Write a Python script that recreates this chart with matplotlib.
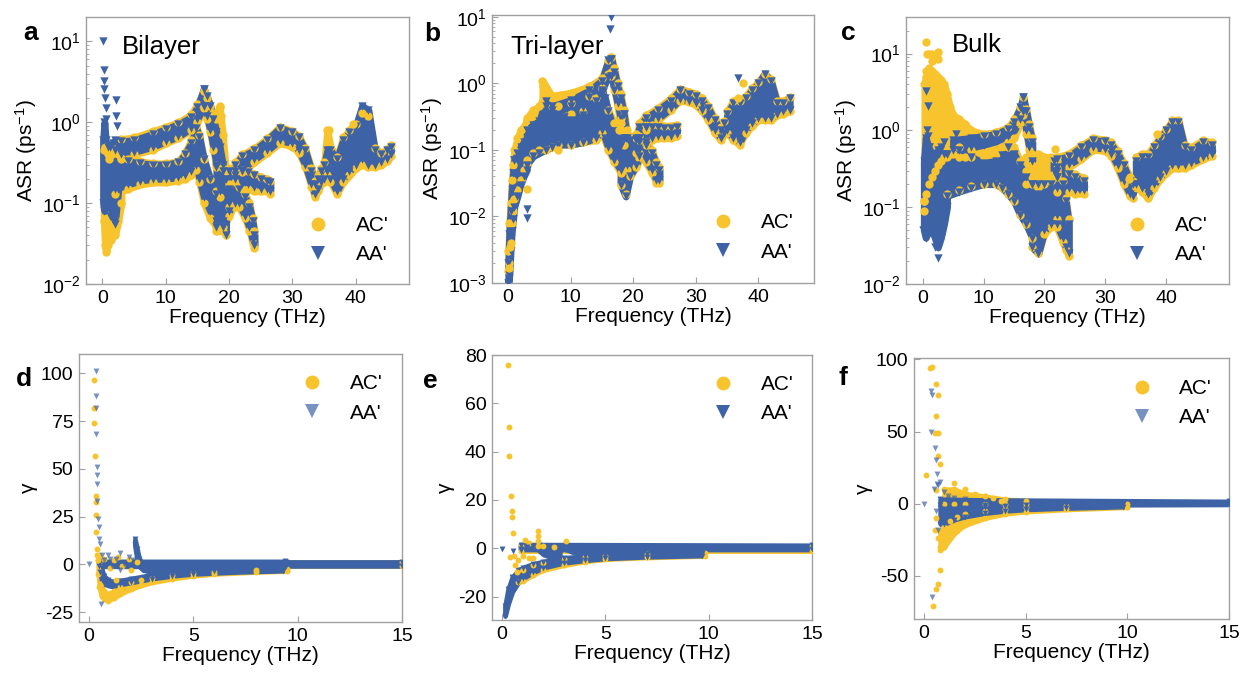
import numpy as np
import matplotlib
matplotlib.use('Agg')
import matplotlib.pyplot as plt
from matplotlib.lines import Line2D
from matplotlib.ticker import LogLocator, NullFormatter, FixedLocator

plt.rcParams['font.family'] = ['Liberation Sans', 'DejaVu Sans']
plt.rcParams['mathtext.fontset'] = 'custom'
plt.rcParams['mathtext.rm'] = 'Liberation Sans'
plt.rcParams['mathtext.it'] = 'Liberation Sans:italic'
plt.rcParams['mathtext.bf'] = 'Liberation Sans:bold'
plt.rcParams['mathtext.default'] = 'regular'
plt.rcParams['axes.unicode_minus'] = False

YEL = '#F8C42E'
BLU = '#3D63A6'

# ---------------- data: (frequency THz, low, high) bands and isolated points ----------------
# Panel a: Bilayer ASR (ps^-1)
a_AC_low = [(0.2, 0.06, 0.45), (0.4, 0.03, 0.5), (0.6, 0.025, 0.45), (0.8, 0.03, 0.4), (1.0, 0.035, 0.35),
            (1.5, 0.04, 0.4), (2.0, 0.04, 0.45), (2.5, 0.06, 0.4), (3.0, 0.1, 0.35)]
a_AC_upper = [(3, 0.36, 0.62), (5, 0.4, 0.65), (8, 0.46, 0.78), (10, 0.55, 0.88), (12, 0.64, 1.0),
              (14, 0.8, 1.25), (15, 1.0, 1.7), (16, 1.5, 2.4)]
a_AC_desc = [(16, 1.5, 2.4), (16.5, 1.1, 2.0), (17, 0.75, 1.6), (17.5, 0.45, 1.3), (18, 0.28, 1.1),
             (18.5, 0.12, 1.6), (19, 0.05, 0.7), (19.5, 0.04, 0.25)]
a_AC_mid = [(2, 0.13, 0.5), (4, 0.15, 0.35), (6, 0.17, 0.33), (8, 0.18, 0.31), (10, 0.18, 0.31), (12, 0.19, 0.33),
            (13, 0.2, 0.42), (14, 0.22, 0.6), (14.8, 0.26, 0.9), (15.3, 0.18, 0.7), (16, 0.1, 0.35),
            (17, 0.065, 0.2), (18, 0.05, 0.14)]
a_AC_valley = [(18, 0.045, 0.3), (19, 0.045, 0.27), (20, 0.07, 0.27), (21, 0.1, 0.24)]
a_AC_rise = [(20, 0.09, 0.17), (21, 0.18, 0.32), (22, 0.24, 0.4), (24, 0.32, 0.48), (26, 0.42, 0.63),
             (28, 0.55, 0.88), (30, 0.5, 0.78), (31, 0.42, 0.68), (32, 0.28, 0.48), (33, 0.16, 0.27),
             (33.5, 0.12, 0.19), (34, 0.14, 0.22), (34.5, 0.17, 0.27)]
a_AC_shelf = [(21, 0.09, 0.26), (22, 0.15, 0.26), (23, 0.15, 0.25), (24, 0.14, 0.23), (25, 0.14, 0.21),
              (26, 0.14, 0.2), (26.5, 0.13, 0.19)]
a_AC_dip = [(21.5, 0.09, 0.16), (22.5, 0.065, 0.13), (23.2, 0.045, 0.1), (23.7, 0.032, 0.065), (24.0, 0.028, 0.045)]
a_AC_high = [(35, 0.18, 0.32), (35.5, 0.22, 0.8), (36, 0.18, 0.5), (37, 0.13, 0.37), (38, 0.18, 0.65),
             (39, 0.22, 0.8), (40, 0.27, 0.95), (41, 0.3, 1.3), (42, 0.28, 1.2), (43, 0.28, 0.48),
             (44, 0.3, 0.42), (45, 0.33, 0.47), (45.5, 0.38, 0.52)]
a_AC_pts = [(18.6, 1.55), (18.7, 1.2), (35.8, 0.8), (39.5, 0.95), (0.5, 0.028), (1.3, 0.035)]

a_AA_low = [(0.1, 0.1, 0.6), (0.3, 0.08, 1.0), (0.5, 0.12, 0.6), (0.8, 0.15, 0.5), (1.2, 0.1, 0.5),
            (1.6, 0.07, 0.55), (2.0, 0.06, 0.6), (2.5, 0.15, 0.5), (3.0, 0.18, 0.45)]
a_AA_upper = [(3, 0.4, 0.58), (5, 0.43, 0.6), (8, 0.5, 0.72), (10, 0.58, 0.82), (12, 0.67, 0.95),
              (14, 0.85, 1.15), (15, 1.1, 1.55), (16, 1.6, 2.6)]
a_AA_desc = [(16, 1.6, 2.6), (16.5, 1.2, 2.1), (17, 0.8, 1.6), (17.5, 0.5, 1.1), (18, 0.3, 0.75),
             (18.5, 0.14, 0.5), (19, 0.06, 0.3), (19.5, 0.04, 0.2)]
a_AA_mid = [(2, 0.15, 0.45), (4, 0.17, 0.33), (6, 0.19, 0.31), (8, 0.2, 0.3), (10, 0.2, 0.3), (12, 0.21, 0.32),
            (13, 0.22, 0.4), (14, 0.25, 0.55), (14.8, 0.3, 0.85), (15.3, 0.2, 0.65), (16, 0.12, 0.35),
            (17, 0.08, 0.2), (18, 0.06, 0.13)]
a_AA_valley = [(18, 0.05, 0.28), (19, 0.05, 0.25), (20, 0.08, 0.25), (21, 0.12, 0.22)]
a_AA_rise = [(20, 0.1, 0.15), (21, 0.2, 0.3), (22, 0.26, 0.38), (24, 0.35, 0.45), (26, 0.45, 0.6),
             (28, 0.6, 0.85), (30, 0.55, 0.75), (31, 0.45, 0.65), (32, 0.3, 0.45), (33, 0.17, 0.25),
             (33.5, 0.13, 0.17), (34, 0.15, 0.2), (34.5, 0.18, 0.25)]
a_AA_shelf = [(21, 0.1, 0.25), (22, 0.17, 0.25), (23, 0.17, 0.24), (24, 0.16, 0.22), (25, 0.15, 0.2),
              (26, 0.15, 0.19), (26.5, 0.14, 0.18)]
a_AA_dip = [(21.5, 0.1, 0.15), (22.5, 0.07, 0.12), (23.2, 0.05, 0.09), (23.7, 0.035, 0.06), (24.0, 0.03, 0.04)]
a_AA_high = [(35, 0.2, 0.3), (35.5, 0.25, 0.45), (36, 0.2, 0.45), (37, 0.14, 0.35), (38, 0.2, 0.6),
             (39, 0.25, 0.75), (40, 0.3, 0.9), (41, 0.35, 1.6), (42, 0.3, 1.4), (43, 0.3, 0.45),
             (44, 0.32, 0.4), (45, 0.35, 0.45), (45.5, 0.4, 0.5)]
a_AA_pts = [(0.15, 10.0), (0.25, 4.4), (0.3, 3.2), (0.3, 2.6), (0.35, 2.0), (0.5, 1.5), (0.6, 1.1),
            (2.2, 1.9), (2.2, 1.2), (2.3, 0.9), (1.2, 0.07), (2.0, 0.055), (1.8, 0.08)]

# Panel b: Tri-layer ASR
b_AC_rise0 = [(0.05, 0.0015, 0.003), (0.2, 0.002, 0.008), (0.4, 0.004, 0.016), (0.6, 0.008, 0.035),
              (0.8, 0.012, 0.06), (1.0, 0.018, 0.1), (1.5, 0.025, 0.15), (2.0, 0.035, 0.2),
              (2.5, 0.05, 0.22), (3.0, 0.06, 0.28)]
b_AC_lowband = [(3, 0.07, 0.3), (4, 0.09, 0.4), (5, 0.1, 0.45), (6, 0.1, 0.7), (7, 0.11, 0.6), (8, 0.12, 0.45),
                (10, 0.12, 0.35), (12, 0.13, 0.38), (14, 0.14, 0.6), (15, 0.18, 0.8), (16, 0.1, 0.4),
                (17, 0.065, 0.25), (18, 0.045, 0.3)]
b_AC_upper = [(5.5, 0.5, 1.1), (7, 0.45, 0.65), (10, 0.5, 0.72), (13, 0.65, 0.9), (15, 0.85, 1.2),
              (16, 1.4, 2.2), (16.5, 1.5, 2.5)]
b_AC_desc = [(16.5, 1.3, 2.5), (17, 0.8, 1.7), (17.5, 0.45, 1.0), (18, 0.2, 0.7), (18.5, 0.12, 0.4),
             (19, 0.05, 0.2)]
b_AC_valley = [(18, 0.03, 0.2), (18.8, 0.022, 0.17), (19.5, 0.04, 0.16), (20.5, 0.055, 0.15), (21, 0.075, 0.14)]
b_AC_rise = [(20.5, 0.09, 0.17), (21, 0.14, 0.25), (22, 0.2, 0.33), (24, 0.28, 0.43), (26, 0.4, 0.6),
             (27.5, 0.55, 0.83), (29, 0.52, 0.75), (30, 0.47, 0.7), (31, 0.38, 0.6), (32, 0.28, 0.46),
             (33, 0.18, 0.3), (34, 0.14, 0.22), (34.5, 0.17, 0.27)]
b_AC_shelf = [(22, 0.12, 0.24), (23, 0.14, 0.24), (24, 0.15, 0.24), (25, 0.15, 0.23), (26, 0.15, 0.23),
              (27, 0.16, 0.24)]
b_AC_dip = [(21, 0.09, 0.16), (22, 0.065, 0.13), (23, 0.045, 0.1), (23.7, 0.032, 0.065), (24.2, 0.032, 0.055)]
b_AC_high = [(35, 0.18, 0.38), (36, 0.14, 0.55), (37, 0.12, 0.55), (38, 0.18, 0.65), (39, 0.23, 0.85),
             (40, 0.28, 1.05), (41, 0.28, 1.4), (42, 0.28, 1.15), (43, 0.33, 0.55), (44, 0.35, 0.55),
             (45, 0.38, 0.62)]
b_AC_pts = [(0.1, 0.0017), (3.0, 0.026), (5.6, 0.9), (8.0, 0.1), (17.8, 0.2), (18.1, 0.25),
            (37.5, 1.0), (36.8, 0.6), (0.3, 0.0035)]

b_AA_rise0 = [(0.05, 0.001, 0.002), (0.2, 0.0013, 0.0055), (0.4, 0.003, 0.012), (0.6, 0.006, 0.025),
              (0.8, 0.009, 0.045), (1.0, 0.014, 0.07), (1.5, 0.02, 0.09), (2.0, 0.03, 0.11),
              (2.5, 0.04, 0.13), (3.0, 0.05, 0.15)]
b_AA_lowband = [(3, 0.06, 0.2), (4, 0.08, 0.24), (5, 0.09, 0.27), (6, 0.1, 0.55), (7, 0.11, 0.4), (8, 0.12, 0.33),
                (10, 0.12, 0.28), (12, 0.13, 0.3), (13, 0.14, 0.38), (14, 0.15, 0.55), (15, 0.2, 0.75),
                (15.5, 0.15, 0.6), (16, 0.11, 0.38), (17, 0.07, 0.19), (18, 0.05, 0.12)]
b_AA_mid = [(8, 0.22, 0.32), (9, 0.25, 0.31), (12, 0.33, 0.44), (14.5, 0.45, 0.7), (15.2, 0.5, 0.75)]
b_AA_upper = [(6, 0.3, 0.45), (7, 0.35, 0.45), (10, 0.45, 0.56), (13, 0.63, 0.78), (15, 0.78, 1.1),
              (16, 1.26, 2.2), (16.5, 1.3, 2.3)]
b_AA_desc = [(16.5, 1.3, 2.3), (17, 0.8, 1.5), (17.5, 0.5, 0.9), (18, 0.3, 0.6), (18.5, 0.15, 0.35),
             (19, 0.06, 0.15)]
b_AA_valley = [(18, 0.03, 0.15), (18.8, 0.02, 0.15), (19.5, 0.04, 0.14), (20.5, 0.06, 0.14), (21, 0.08, 0.13)]
b_AA_rise = [(20.5, 0.1, 0.15), (21, 0.15, 0.22), (22, 0.22, 0.3), (24, 0.3, 0.4), (26, 0.42, 0.55),
             (27.5, 0.58, 0.78), (29, 0.55, 0.7), (30, 0.5, 0.65), (31, 0.4, 0.55), (32, 0.3, 0.42),
             (33, 0.2, 0.28), (34, 0.15, 0.2), (34.5, 0.18, 0.25)]
b_AA_shelf = [(22, 0.13, 0.22), (23, 0.15, 0.22), (24, 0.16, 0.22), (25, 0.16, 0.21), (26, 0.16, 0.21),
              (27, 0.17, 0.22)]
b_AA_dip = [(21, 0.1, 0.15), (22, 0.07, 0.12), (23, 0.05, 0.09), (23.7, 0.035, 0.06), (24.2, 0.035, 0.05)]
b_AA_high = [(35, 0.2, 0.35), (36, 0.15, 0.5), (37, 0.13, 0.5), (38, 0.2, 0.6), (39, 0.25, 0.8),
             (40, 0.3, 1.0), (41, 0.3, 1.4), (42, 0.3, 1.1), (43, 0.35, 0.5), (44, 0.38, 0.5), (45, 0.4, 0.6)]
b_AA_pts = [(0.1, 0.0012), (3.0, 0.013), (3.0, 0.0095), (16.3, 6.5), (16.4, 10.0), (18.5, 0.35),
            (36.8, 1.2), (1.0, 0.07)]

# Panel c: Bulk ASR
c_AC_low = [(0.3, 0.12, 4.0), (0.5, 0.15, 5.0), (1.0, 0.2, 5.0), (1.5, 0.25, 6.0), (2.0, 0.3, 5.5),
            (2.5, 0.35, 5.0), (3.0, 0.4, 4.5), (3.5, 0.45, 4.0), (4.0, 0.45, 3.0), (4.5, 0.5, 2.0),
            (5.0, 0.5, 1.6), (6.0, 0.45, 1.4), (7.0, 0.45, 1.2), (8.0, 0.45, 1.0), (10.0, 0.45, 0.9),
            (12.0, 0.5, 0.95), (14.0, 0.6, 1.1), (15.0, 0.8, 1.4), (16.0, 1.2, 2.0)]
c_AC_mid = [(4, 0.15, 0.55), (6, 0.17, 0.6), (8, 0.19, 0.55), (10, 0.2, 0.5), (12, 0.2, 0.52), (13, 0.18, 0.6),
            (14, 0.15, 0.7), (15, 0.12, 0.6), (16, 0.08, 0.4), (17, 0.06, 0.3), (18, 0.04, 0.25)]
c_AC_desc = [(16.5, 1.6, 2.7), (17, 0.9, 1.9), (17.5, 0.55, 1.2), (18, 0.35, 0.8)]
c_AC_block = [(17, 0.2, 0.45), (18, 0.2, 0.5), (19, 0.18, 0.5), (20, 0.2, 0.45), (21, 0.22, 0.45), (22, 0.25, 0.4)]
c_AC_valley = [(18, 0.03, 0.22), (19, 0.025, 0.22), (20, 0.045, 0.22), (21, 0.055, 0.22), (22, 0.07, 0.27)]
c_AC_dip = [(22, 0.055, 0.27), (23, 0.035, 0.22), (23.5, 0.028, 0.13), (24, 0.023, 0.07)]
c_AC_rise = [(21.5, 0.27, 0.43), (22, 0.3, 0.45), (24, 0.33, 0.5), (26, 0.42, 0.64), (28, 0.56, 0.8),
             (30, 0.54, 0.76), (31, 0.46, 0.7), (32, 0.32, 0.54), (33, 0.2, 0.38), (34, 0.14, 0.25),
             (34.5, 0.13, 0.22)]
c_AC_shelf = [(22, 0.16, 0.32), (24, 0.16, 0.29), (25, 0.15, 0.27), (26.5, 0.15, 0.24)]
c_AC_high = [(35, 0.18, 0.45), (36, 0.16, 0.5), (37, 0.13, 0.5), (38, 0.18, 0.65), (39, 0.23, 0.85),
             (40, 0.28, 1.05), (41, 0.32, 1.35), (42, 0.32, 1.35), (43, 0.32, 0.65), (44, 0.35, 0.6),
             (46, 0.42, 0.75), (47.5, 0.47, 0.7)]
c_AC_pts = [(0.5, 14.0), (0.7, 10.0), (1.0, 10.0), (1.5, 10.0), (1.6, 8.0), (2.5, 10.5), (2.5, 8.5),
            (0.5, 6.0), (1.0, 6.5), (0.2, 0.09), (0.3, 0.12), (21.8, 0.58), (33.8, 0.23), (38.5, 0.9)]

c_AA_low = [(0.2, 0.05, 0.4), (0.5, 0.04, 0.8), (1.0, 0.05, 0.6), (1.5, 0.05, 0.5), (2.0, 0.04, 0.5),
            (2.5, 0.03, 0.55), (3.0, 0.04, 0.6), (3.5, 0.06, 0.5), (4.0, 0.1, 0.5)]
c_AA_mid = [(4, 0.14, 0.5), (6, 0.16, 0.55), (8, 0.18, 0.45), (10, 0.2, 0.38), (12, 0.2, 0.4), (13, 0.18, 0.48),
            (14, 0.15, 0.6), (15, 0.12, 0.5), (16, 0.08, 0.35), (17, 0.06, 0.25), (18, 0.04, 0.2),
            (19, 0.025, 0.15)]
c_AA_upper = [(5, 0.55, 0.75), (8, 0.6, 0.8), (10, 0.65, 0.85), (12, 0.72, 0.9), (14, 0.85, 1.05),
              (15, 1.0, 1.3), (16, 1.4, 2.0), (16.5, 1.8, 2.7)]
c_AA_desc = [(16.5, 1.8, 2.7), (17, 1.0, 1.8), (17.5, 0.6, 1.1), (18, 0.4, 0.7)]
c_AA_valley = [(18, 0.03, 0.2), (19, 0.025, 0.2), (20, 0.05, 0.2), (21, 0.06, 0.2), (22, 0.08, 0.25)]
c_AA_dip = [(22, 0.06, 0.25), (23, 0.04, 0.2), (23.5, 0.03, 0.12), (24, 0.025, 0.06)]
c_AA_rise = [(21.5, 0.3, 0.4), (22, 0.33, 0.42), (24, 0.36, 0.46), (26, 0.45, 0.6), (28, 0.6, 0.75),
             (30, 0.58, 0.72), (31, 0.5, 0.65), (32, 0.35, 0.5), (33, 0.22, 0.35), (34, 0.15, 0.22),
             (34.5, 0.14, 0.2)]
c_AA_shelf = [(22, 0.18, 0.3), (24, 0.18, 0.27), (25, 0.17, 0.25), (26.5, 0.17, 0.22)]
c_AA_high = [(35, 0.2, 0.4), (36, 0.18, 0.45), (37, 0.15, 0.45), (38, 0.2, 0.6), (39, 0.25, 0.8),
             (40, 0.3, 1.0), (41, 0.35, 1.3), (42, 0.35, 1.3), (43, 0.35, 0.6), (44, 0.38, 0.55),
             (46, 0.45, 0.7), (47.5, 0.5, 0.65)]
c_AA_pts = [(0.6, 3.3), (0.8, 2.1), (0.7, 1.0), (0.8, 0.85), (1.0, 0.6), (2.5, 0.022), (2.0, 0.03),
            (0.1, 0.05), (3.5, 0.7), (5.5, 0.9)]

# Panel d: Bilayer gamma
d_AC_band = [(0.45, -5, 2), (0.5, -12, -3), (0.6, -16.5, -10), (0.7, -18, -14), (0.9, -19, -15.5),
             (1.2, -17.5, -14), (1.5, -15.5, -12), (2, -13, -9.5), (2.5, -11, -8), (3, -9.5, -7),
             (4, -7.5, -5.5), (5, -6, -4.5), (6, -5, -3.8), (8, -4, -3), (9.5, -3.5, -2.6)]
d_AC_zero = [(0.5, -1, 1), (15, -1, 1)]
d_AC_pts = [(0.24, 96.5), (0.24, 81.6), (0.24, 74.0), (0.27, 56.5), (0.32, 36.0), (0.35, 32.5),
            (0.35, 26.0), (0.35, 16.7), (0.38, 8.0), (0.4, 5.0), (0.45, 2.0), (0.5, 5.0), (0.7, 3.0),
            (1.0, -2.0), (1.2, 2.0), (1.4, 4.0), (1.6, -1.0), (1.9, 3.0), (2.0, -3.0), (2.3, 1.0), (1.3, -8.0)]
d_AA_band = [(0.55, -4, 1), (0.6, -8, -2), (0.7, -10, -6), (0.9, -11, -8), (1.1, -11.5, -9),
             (1.5, -10.5, -8.5), (2, -9.5, -7.5), (3, -7.5, -5.5), (4, -6, -4.5), (5, -5, -3.5),
             (7, -4, -3), (9.3, -3.3, -2.5)]
d_AA_branch = [(2.2, 10, 13), (2.3, 3, 8), (2.4, -1, 3), (2.6, -3, 0), (3, -4, -1.5), (4, -4, -2),
               (6, -3.5, -2), (9.3, -3, -2)]
d_AA_zero = [(0.5, -1, 1.5), (9.4, -1, 1.5), (9.45, -0.8, 1.2), (15, -0.8, 1.2)]
d_AA_pts = [(0.32, 101.0), (0.32, 88.0), (0.35, 82.0), (0.35, 68.0), (0.4, 51.0), (0.38, 47.0),
            (0.4, 42.0), (0.4, 33.0), (0.45, 23.7), (0.5, 19.3), (0.5, 13.0), (0.55, 10.5), (0.6, 5.0),
            (0.0, 0.0), (0.56, -21.0), (0.7, 2.0), (0.9, 5.0), (1.1, -1.0), (1.3, 3.0), (1.5, 6.0),
            (1.7, 0.0), (1.9, 4.0), (2.1, 2.0), (1.5, -3.0), (1.0, 3.0)]

# Panel e: Tri-layer gamma
e_AC_band = [(0.8, -14, -9), (1, -13.5, -9), (1.5, -11, -7), (2, -9, -6), (3, -7, -4.5), (4, -5.5, -3.5),
             (5, -4.5, -3), (7, -3.8, -2.5), (9.8, -3.2, -2)]
e_AC_zero = [(0.9, -1, 1), (15, -1, 1)]
e_AC_pts = [(0.27, 76.0), (0.35, 50.3), (0.35, 38.2), (0.44, 21.6), (0.47, 15.3), (0.47, 12.9),
            (0.52, 6.3), (0.4, -3.5), (0.65, -7.0), (0.73, -10.0), (0.6, -3.0), (0.8, -5.0), (1.1, 3.5),
            (1.3, 2.0), (1.5, -4.0), (1.75, 7.0), (1.75, 5.0), (1.75, 3.0), (1.75, 1.0), (2.0, 1.0),
            (2.5, 0.5), (3.1, 3.0), (1.3, -4.0), (1.0, -3.0)]
e_AA_band = [(0.15, -28, -24), (0.3, -23, -17), (0.5, -18, -12), (0.8, -14, -9), (1, -12.5, -8),
             (1.5, -10, -6.5), (2, -8, -5.5), (3, -6, -4), (4, -5, -3.2), (5, -4.2, -2.8), (7, -3.5, -2.3),
             (9.7, -3, -1.8)]
e_AA_branch1 = [(1.8, -1, 1.5), (2.0, -2.5, 0), (2.3, -3.5, -1.5), (2.8, -4, -2.5)]
e_AA_branch2 = [(3.1, -0.5, 1.5), (3.4, -1.5, 0), (4, -2, -0.5), (6, -2, -0.8), (9.7, -2, -0.8)]
e_AA_zero = [(0.9, -0.5, 1.5), (15, -0.5, 1.2)]
e_AA_pts = [(0.0, -0.5), (0.55, -1.0), (0.9, -0.8), (1.2, 0.5), (1.5, 1.0)]

# Panel f: Bulk gamma
f_AC_band = [(0.8, -32, -20), (1.0, -30, -16), (1.3, -24, -12), (1.6, -19, -9), (2, -15, -7), (3, -10, -5),
             (4, -7, -3.5), (5, -5.5, -2.5), (7, -4, -1.5), (10, -2.5, -0.5)]
f_AC_spread = [(1.0, 0, 10), (1.5, 0, 10), (2, 0, 7), (3, 0, 5), (4, 0, 3), (5, 0, 2)]
f_AC_pts = [(0.11, 20.0), (0.28, 94.0), (0.39, 95.0), (0.61, 83.0), (0.69, 75.0), (0.57, 60.6), (0.52, 48.8),
            (0.69, 48.8), (0.69, 32.7), (0.77, 27.6), (0.61, 9.2), (0.61, -10.0), (0.52, -18.0),
            (0.69, -24.0), (0.77, -46.0), (0.69, -56.0), (0.61, -59.0), (0.44, -71.0), (0.8, -30.0),
            (1.0, -28.0), (1.5, 14.0), (1.3, 8.0), (2.0, 10.0), (2.5, 7.0), (3.0, 5.0), (3.4, 4.0), (3.8, 2.0)]
f_AA_band = [(0.8, -14, -3), (1.0, -14, -4), (1.5, -11, -4), (2, -9, -3), (3, -6.5, -2), (4, -5, -1.5),
             (5, -4, -1), (7, -3, -0.5), (9.8, -2, 0)]
f_AA_zero = [(0.8, -1, 3), (3, -1, 2.5), (15, -0.5, 1.5)]
f_AA_pts = [(0.0, 0.0), (0.36, 78.0), (0.38, 75.6), (0.36, 49.5), (0.56, 38.7), (0.6, 30.4), (0.65, 20.7),
            (0.65, 13.8), (0.7, 12.7), (0.8, 15.0), (0.4, -64.5), (0.7, -18.0), (0.6, -5.0), (0.5, 10.0),
            (1.2, 5.0), (1.5, 4.0), (2.0, 3.0), (2.5, 2.0), (1.0, 8.0), (1.2, 3.0)]

panel_letters = ['a', 'b', 'c', 'd', 'e', 'f']
panel_titles = ['Bilayer', 'Tri-layer', 'Bulk']
series_labels = ["AC'", "AA'"]

# ---------------- drawing ----------------
W, H = 1250, 674
fig = plt.figure(figsize=(12.5, 6.74), dpi=100)
fig.patch.set_facecolor('white')


def add_ax(l, t, r, b):
    return fig.add_axes([l / W, 1 - b / H, (r - l) / W, (b - t) / H])


def draw_bands(ax, bands, color, marker, s, edge_lw, alpha=1.0):
    for band in bands:
        arr = np.array(band, dtype=float)
        f, lo, hi = arr[:, 0], arr[:, 1], arr[:, 2]
        ax.fill_between(f, lo, hi, color=color, lw=edge_lw, edgecolor=color, alpha=alpha, zorder=2,
                        joinstyle='round', capstyle='round')
        ax.scatter(f, lo, s=s, marker=marker, color=color, lw=0, alpha=alpha, zorder=3)
        ax.scatter(f, hi, s=s, marker=marker, color=color, lw=0, alpha=alpha, zorder=3)


def draw_pts(ax, pts, color, marker, s, alpha=1.0):
    arr = np.array(pts, dtype=float)
    ax.scatter(arr[:, 0], arr[:, 1], s=s, marker=marker, color=color, lw=0, alpha=alpha, zorder=4)


SPINE = '#A0A0A0'


def style(ax):
    for sp in ax.spines.values():
        sp.set_color(SPINE)
        sp.set_linewidth(1.0)
    ax.tick_params(which='both', direction='in', colors=SPINE, labelcolor='black', labelsize=14,
                   top=False, right=False, pad=4)
    ax.tick_params(which='major', length=4, width=0.8)
    ax.tick_params(which='minor', length=2.5, width=0.6)


def add_legend(ax, bbox, blue_alpha=1.0):
    h = [Line2D([], [], ls='none', marker='o', markersize=10, color=YEL, markeredgewidth=0),
         Line2D([], [], ls='none', marker='v', markersize=10, color=BLU, alpha=blue_alpha, markeredgewidth=0)]
    ax.legend(h, series_labels, loc='upper left', bbox_to_anchor=bbox, frameon=False, fontsize=15,
              handlelength=1.0, handletextpad=1.3, labelspacing=0.5, borderpad=0, borderaxespad=0)


def log_axis(ax, ylim, decades):
    ax.set_yscale('log')
    ax.set_ylim(*ylim)
    ax.yaxis.set_major_locator(FixedLocator([10.0 ** d for d in decades]))
    ax.set_yticklabels(['$10^{%d}$' % d for d in decades])
    ax.yaxis.set_minor_locator(LogLocator(base=10, subs=np.arange(2, 10)))
    ax.yaxis.set_minor_formatter(NullFormatter())
    ax.set_xticks([0, 10, 20, 30, 40])
    ax.set_ylabel('ASR (ps$^{-1}$)', fontsize=15, labelpad=2)
    ax.set_xlabel('Frequency (THz)', fontsize=15, labelpad=1)


S_TOP = 36
S_BOT = 18
LW_TOP = 5.0
LW_BOT = 3.5

# panel a
ax = add_ax(86, 17, 409, 284)
draw_bands(ax, [a_AC_low, a_AC_upper, a_AC_desc, a_AC_mid, a_AC_valley, a_AC_rise, a_AC_shelf, a_AC_dip,
                a_AC_high], YEL, 'o', S_TOP, LW_TOP)
draw_pts(ax, a_AC_pts, YEL, 'o', S_TOP)
draw_bands(ax, [a_AA_low, a_AA_upper, a_AA_desc, a_AA_mid, a_AA_valley, a_AA_rise, a_AA_shelf, a_AA_dip,
                a_AA_high], BLU, 'v', S_TOP, LW_TOP)
draw_pts(ax, a_AA_pts, BLU, 'v', S_TOP)
ax.set_xlim(-2.6, 48.4)
log_axis(ax, (0.01, 20), [-2, -1, 0, 1])
style(ax)
add_legend(ax, (0.686, 0.255))

# panel b
ax = add_ax(492, 15, 814, 283)
draw_bands(ax, [b_AC_rise0, b_AC_lowband, b_AC_upper, b_AC_desc, b_AC_valley, b_AC_rise, b_AC_shelf, b_AC_dip,
                b_AC_high], YEL, 'o', S_TOP, LW_TOP)
draw_pts(ax, b_AC_pts, YEL, 'o', S_TOP)
draw_bands(ax, [b_AA_rise0, b_AA_lowband, b_AA_mid, b_AA_upper, b_AA_desc, b_AA_valley, b_AA_rise, b_AA_shelf,
                b_AA_dip, b_AA_high], BLU, 'v', S_TOP, LW_TOP)
draw_pts(ax, b_AA_pts, BLU, 'v', S_TOP)
ax.set_xlim(-2.56, 48.9)
log_axis(ax, (0.001, 10.6), [-3, -2, -1, 0, 1])
style(ax)
add_legend(ax, (0.685, 0.26))

# panel c
ax = add_ax(906, 17, 1229, 284)
draw_bands(ax, [c_AC_low, c_AC_mid, c_AC_desc, c_AC_block, c_AC_valley, c_AC_dip, c_AC_rise, c_AC_shelf,
                c_AC_high], YEL, 'o', S_TOP, LW_TOP)
draw_pts(ax, c_AC_pts, YEL, 'o', S_TOP)
draw_bands(ax, [c_AA_low, c_AA_mid, c_AA_upper, c_AA_desc, c_AA_valley, c_AA_dip, c_AA_rise, c_AA_shelf,
                c_AA_high], BLU, 'v', S_TOP, LW_TOP)
draw_pts(ax, c_AA_pts, BLU, 'v', S_TOP)
ax.set_xlim(-2.73, 50.3)
log_axis(ax, (0.01, 30), [-2, -1, 0, 1])
style(ax)
add_legend(ax, (0.684, 0.255))


def gamma_axis(ax, xlim, ylim, yticks):
    ax.set_xlim(*xlim)
    ax.set_ylim(*ylim)
    ax.set_xticks([0, 5, 10, 15])
    ax.set_yticks(yticks)
    ax.set_xlabel('Frequency (THz)', fontsize=15, labelpad=1)
    ax.set_ylabel('γ', fontsize=15, labelpad=2)


# panel d
ax = add_ax(79, 354, 402, 622)
draw_bands(ax, [d_AC_band, d_AC_zero], YEL, 'o', S_BOT, LW_BOT)
draw_pts(ax, d_AC_pts, YEL, 'o', S_BOT)
draw_bands(ax, [d_AA_band, d_AA_branch, d_AA_zero], BLU, 'v', S_BOT, LW_BOT)
draw_pts(ax, d_AA_pts, BLU, 'v', S_BOT, alpha=0.7)
gamma_axis(ax, (-0.48, 15), (-30.2, 110.1), [-25, 0, 25, 50, 75, 100])
style(ax)
add_legend(ax, (0.69, 0.925), blue_alpha=0.7)

# panel e
ax = add_ax(492, 355, 812, 620)
draw_bands(ax, [e_AC_band, e_AC_zero], YEL, 'o', S_BOT, LW_BOT)
draw_pts(ax, e_AC_pts, YEL, 'o', S_BOT)
draw_bands(ax, [e_AA_band, e_AA_branch1, e_AA_branch2, e_AA_zero], BLU, 'v', S_BOT, LW_BOT)
draw_pts(ax, e_AA_pts, BLU, 'v', S_BOT)
gamma_axis(ax, (-0.48, 15), (-29.7, 80), [-20, 0, 20, 40, 60, 80])
style(ax)
add_legend(ax, (0.69, 0.925))

# panel f
ax = add_ax(914, 358, 1229, 619)
draw_bands(ax, [f_AC_band, f_AC_spread], YEL, 'o', S_BOT, LW_BOT)
draw_pts(ax, f_AC_pts, YEL, 'o', S_BOT)
draw_bands(ax, [f_AA_band, f_AA_zero], BLU, 'v', S_BOT, LW_BOT)
draw_pts(ax, f_AA_pts, BLU, 'v', S_BOT, alpha=0.7)
gamma_axis(ax, (-0.49, 15), (-80, 101), [-50, 0, 50, 100])
style(ax)
add_legend(ax, (0.69, 0.92), blue_alpha=0.7)

# panel letters and titles
letter_pos = [(31, 33), (432, 34), (848, 33), (24, 379), (430, 381), (843, 378)]
for lt, (px, py) in zip(panel_letters, letter_pos):
    fig.text(px / W, 1 - py / H, lt, fontsize=19, fontweight='bold', ha='center', va='center')
title_pos = [(122, 47), (510, 47), (952, 45)]
for tt, (px, py) in zip(panel_titles, title_pos):
    fig.text(px / W, 1 - py / H, tt, fontsize=18.5, ha='left', va='center')

fig.savefig('out.png', dpi=100, facecolor='white')
